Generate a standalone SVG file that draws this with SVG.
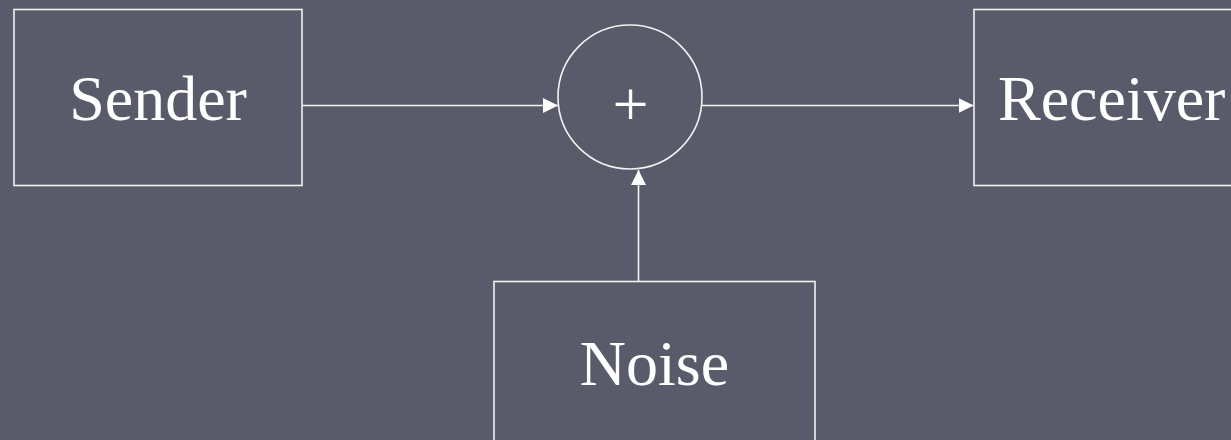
<svg xmlns="http://www.w3.org/2000/svg" width="1231" height="440" viewBox="0 0 1231 440">
  <defs>
    <style>
      .box { fill: none; stroke: #f2f2f2; stroke-width: 1.6; }
      .label { font-family: "Liberation Serif", "Times New Roman", serif; font-size: 64px; fill: #ffffff; }
      .wire { fill: none; stroke: #f2f2f2; stroke-width: 1.6; }
    </style>
    <marker id="arrow" viewBox="0 0 15 15" refX="15" refY="7.5" markerWidth="15" markerHeight="15" markerUnits="userSpaceOnUse" orient="auto">
      <path d="M0,0 L15,7.5 L0,15 Z" fill="#ffffff"/>
    </marker>
  </defs>

  <rect x="0" y="0" width="1231" height="440" fill="#5a5b6a"/>

  <g id="sender">
    <rect class="box" x="14" y="9.5" width="288" height="176"/>
    <text class="label" x="158" y="120" text-anchor="middle">Sender</text>
  </g>

  <g id="adder">
    <circle class="box" cx="630" cy="97" r="72"/>
    <text class="label" x="630.5" y="126" text-anchor="middle">+</text>
  </g>

  <g id="receiver">
    <rect class="box" x="974" y="9.5" width="290" height="176"/>
    <text class="label" x="998" y="120">Receiver</text>
  </g>

  <g id="noise">
    <rect class="box" x="494" y="281.5" width="321" height="180"/>
    <text class="label" x="654.5" y="385" text-anchor="middle">Noise</text>
  </g>

  <g id="connectors">
    <line class="wire" x1="302" y1="105.5" x2="558" y2="105.5" marker-end="url(#arrow)"/>
    <line class="wire" x1="702" y1="105.5" x2="973.5" y2="105.5" marker-end="url(#arrow)"/>
    <line class="wire" x1="638.5" y1="281.5" x2="638.5" y2="170" marker-end="url(#arrow)"/>
  </g>
</svg>
